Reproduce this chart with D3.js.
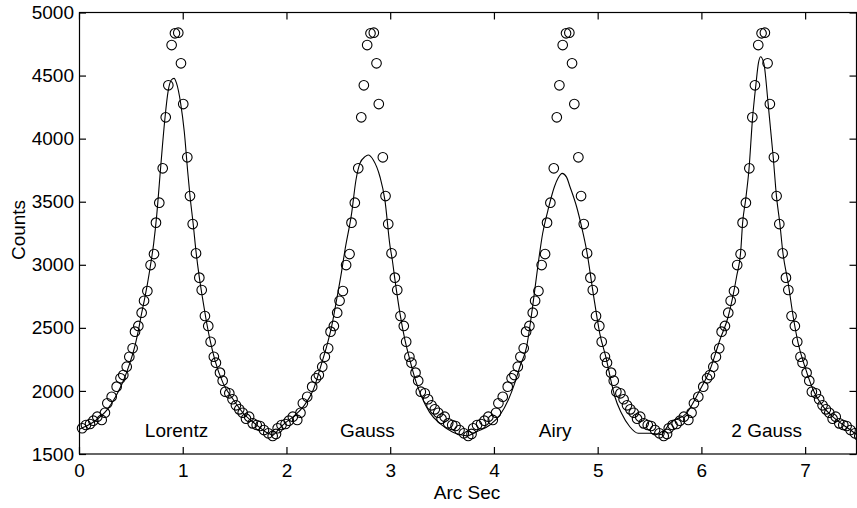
<!DOCTYPE html>
<html><head><meta charset="utf-8">
<script src="https://cdn.jsdelivr.net/npm/d3@7"></script>
<style>
body{margin:0;background:#fff}
text{font-family:"Liberation Sans",Arial,Helvetica,sans-serif;fill:#000}
</style>
</head><body>
<svg id="chart" width="857" height="508"></svg>
<script>
// ---- data ----
// one observed profile; the figure repeats it four times, once per fit
const profileX = [0.03,0.067,0.106,0.138,0.176,0.219,0.25,0.273,0.315,0.363,0.40,0.427,0.46,0.485,0.517,0.54,0.572,0.604,0.627,0.659,0.69,0.723,0.742,0.774,0.807,0.836,0.861,0.893,0.925,0.957,0.983,1.005,1.044,1.07,1.096,1.128,1.16,1.183,1.214,1.246,1.269,1.30,1.32,1.359,1.385,1.41,1.449,1.48,1.513,1.545,1.578,1.61,1.64,1.674,1.713,1.745,1.783,1.825,1.867,1.899];
const profileY = [1704,1730,1738,1764,1796,1770,1827,1902,1954,2034,2100,2126,2192,2271,2338,2470,2515,2620,2715,2792,2998,3085,3334,3492,3765,4169,4423,4742,4835,4840,4597,4274,3852,3545,3323,3091,2898,2800,2594,2515,2390,2271,2224,2145,2081,1994,1981,1934,1886,1854,1827,1780,1796,1743,1730,1722,1690,1664,1643,1659];
const copyOffsets = [0, 1.885, 3.77, 5.655];

const lorentzX = [0,0.03,0.15,0.27,0.35,0.43,0.49,0.54,0.57,0.60,0.63,0.66,0.69,0.72,0.75,0.78,0.805,0.83,0.86,0.89,0.916,0.94,0.98,1.015,1.048,1.07,1.10,1.13,1.16,1.19,1.22,1.263,1.31,1.39,1.49,1.584,1.713,1.80,1.87];
const lorentzY = [1695,1706,1760,1850,1950,2085,2220,2360,2470,2600,2720,2850,3000,3170,3400,3700,3950,4174,4380,4465,4478,4440,4280,4055,3738,3545,3329,3091,2900,2740,2590,2404,2245,2060,1928,1823,1730,1675,1648];

const gaussX = [1.87,1.90,1.94,2.00,2.066,2.162,2.258,2.339,2.387,2.435,2.483,2.53,2.564,2.628,2.67,2.708,2.757,2.788,2.837,2.901,2.949,2.998,3.02,3.046,3.094,3.142,3.19,3.25,3.30,3.38,3.49,3.60,3.75];
const gaussY = [1648,1672,1710,1755,1796,1875,2007,2219,2351,2509,2721,2940,3117,3408,3672,3804,3857,3870,3831,3698,3513,3150,3040,2880,2615,2404,2245,2070,1960,1830,1735,1675,1642];

const airyX = [3.75,3.833,3.961,4.058,4.138,4.20,4.25,4.315,4.37,4.427,4.47,4.52,4.583,4.62,4.658,4.70,4.733,4.797,4.845,4.893,4.957,5.02,5.086,5.134,5.166,5.23,5.31,5.391,5.504,5.62];
const airyY = [1642,1677,1730,1809,1928,2060,2192,2350,2650,3012,3250,3430,3619,3690,3725,3695,3619,3460,3302,3117,2774,2457,2245,2060,1954,1823,1716,1664,1664,1652];

const gauss2X = [5.62,5.696,5.857,5.986,6.082,6.178,6.258,6.339,6.38,6.397,6.426,6.458,6.493,6.525,6.55,6.57,6.602,6.643,6.692,6.724,6.756,6.785,6.837,6.885,6.933,6.998,7.078,7.174,7.303,7.438,7.5];
const gauss2Y = [1652,1743,1823,2007,2166,2404,2588,2905,3117,3329,3513,3751,4161,4425,4600,4649,4597,4280,3857,3540,3329,3100,2853,2588,2377,2192,2007,1875,1770,1690,1651];

const fitNames = ["Lorentz","Gauss","Airy","2 Gauss"];
const xTicks = [0,1,2,3,4,5,6,7];
const yTicks = [1500,2000,2500,3000,3500,4000,4500,5000];
const xTitle = "Arc Sec";
const yTitle = "Counts";

// ---- drawing ----
const svg = d3.select("#chart");
const L = 79, R = 857, T = 12.5, B = 454;
const x = d3.scaleLinear().domain([0, 7.5]).range([L, R]);
const y = d3.scaleLinear().domain([1500, 5000]).range([B, T]);

svg.append("rect").attr("width",857).attr("height",508).attr("fill","#fff");

svg.append("defs").append("clipPath").attr("id","clip")
  .append("rect").attr("x",0).attr("y",0).attr("width",R - 0.5).attr("height",B);

// frame
svg.append("rect").attr("x",L+0.5).attr("y",T).attr("width",R-L-1).attr("height",B-T)
  .attr("fill","none").attr("stroke","#000").attr("stroke-width",1.2);

const tl = 7;
const fs = 19;
const xb = svg.append("g").attr("transform",`translate(0,${B})`)
  .call(d3.axisBottom(x).tickValues(xTicks).tickSizeInner(-tl).tickSizeOuter(0).tickPadding(tl+8).tickFormat(d3.format("d")));
const xt = svg.append("g").attr("transform",`translate(0,${T})`)
  .call(d3.axisTop(x).tickValues(xTicks).tickSizeInner(-tl).tickSizeOuter(0).tickFormat(""));
const yl = svg.append("g").attr("transform",`translate(${L},0)`)
  .call(d3.axisLeft(y).tickValues(yTicks).tickSizeInner(-tl).tickSizeOuter(0).tickPadding(tl+6).tickFormat(d3.format("d")));
const yr = svg.append("g").attr("transform",`translate(${R-0.5},0)`)
  .call(d3.axisRight(y).tickValues(yTicks).tickSizeInner(-tl).tickSizeOuter(0).tickFormat(""));

[xb,xt,yl,yr].forEach(g=>{
  g.select(".domain").remove();
  g.selectAll("line").attr("stroke","#000").attr("stroke-width",1.2);
  g.selectAll("text").attr("font-size",fs).attr("font-family",'"Liberation Sans",Arial,sans-serif').attr("fill","#000");
});
xb.selectAll("text").attr("dy","0.72em").attr("y", 9);
yl.selectAll("text").attr("x", -5);

// curves
const plot = svg.append("g").attr("clip-path","url(#clip)");
const fits = [[lorentzX,lorentzY],[gaussX,gaussY],[airyX,airyY],[gauss2X,gauss2Y]];
const line = d3.line().x(d=>x(d[0])).y(d=>y(d[1])).curve(d3.curveMonotoneX);
fits.forEach(([fx,fy])=>{
  plot.append("path").datum(fx.map((v,i)=>[v,fy[i]]))
    .attr("d",line).attr("fill","none").attr("stroke","#000").attr("stroke-width",1.1);
});

// observed points, one copy per fit
copyOffsets.forEach(off=>{
  plot.selectAll(null).data(profileX.map((v,i)=>[v+off, profileY[i]])).enter()
    .append("circle").attr("cx",d=>x(d[0])).attr("cy",d=>y(d[1])).attr("r",4.8)
    .attr("fill","none").attr("stroke","#000").attr("stroke-width",1.1);
});

// fit labels
const labelCenters = [0.94, 2.78, 4.59, 6.63];
fitNames.forEach((n,i)=>{
  svg.append("text").attr("x",x(labelCenters[i])).attr("y",437)
    .attr("text-anchor","middle").attr("font-size",fs).text(n);
});

// axis titles
svg.append("text").attr("x",(L+R)/2 - 1).attr("y",499).attr("text-anchor","middle")
  .attr("font-size",fs).text(xTitle);
svg.append("text").attr("transform","translate(25,230) rotate(-90)").attr("text-anchor","middle")
  .attr("font-size",fs).text(yTitle);
</script>
</body></html>
